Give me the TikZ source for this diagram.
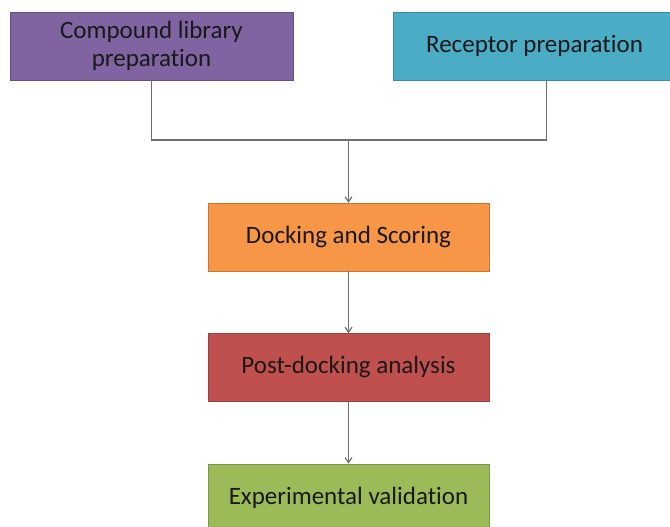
\documentclass[tikz,border=0pt]{standalone}
\usepackage{fontspec}
\setmainfont{Carlito}[Ligatures=NoCommon]
\usetikzlibrary{arrows.meta,positioning}

\definecolor{libpurple}{HTML}{8064A2}
\definecolor{recaqua}{HTML}{4BACC6}
\definecolor{dockorange}{HTML}{F79646}
\definecolor{postred}{HTML}{C0504D}
\definecolor{validgreen}{HTML}{9BBB59}
\definecolor{linkgray}{HTML}{707070}

\begin{document}
\begin{tikzpicture}[
  x=1pt, y=1pt,
  node distance=62pt,
  stage/.style={draw, minimum height=68pt, minimum width=281pt, inner sep=0pt,
                font=\fontsize{25}{28}\selectfont, align=center, text=black!90},
  link/.style={draw=linkgray, line width=1.2pt},
  arr/.style={link, -{Straight Barb[length=5pt, width=7pt]}}
]
\useasboundingbox (0,0) rectangle (670,-527);

\node[stage, fill=libpurple, draw=libpurple!80!black, minimum width=283pt] (lib) at (151.5,-46) {Compound library\\preparation};
\node[stage, fill=recaqua, draw=recaqua!80!black, minimum width=283pt] (rec) at (534.5,-46) {Receptor preparation};
\node[stage, fill=dockorange, draw=dockorange!80!black] (dock) at (348.5,-237) {Docking and Scoring};
\node[stage, fill=postred, draw=postred!80!black, below=of dock] (post) {Post-docking analysis};
\node[stage, fill=validgreen, draw=validgreen!80!black, below=of post] (valid) {Experimental validation};

\coordinate (join) at (dock.north |- 0,-140);
\draw[link] (lib.south) |- ([xshift=12pt]rec.south |- join) -- ([xshift=12pt]rec.south);
\draw[arr] (join) -- (dock);
\draw[arr] (dock) -- (post);
\draw[arr] (post) -- (valid);
\end{tikzpicture}
\end{document}
